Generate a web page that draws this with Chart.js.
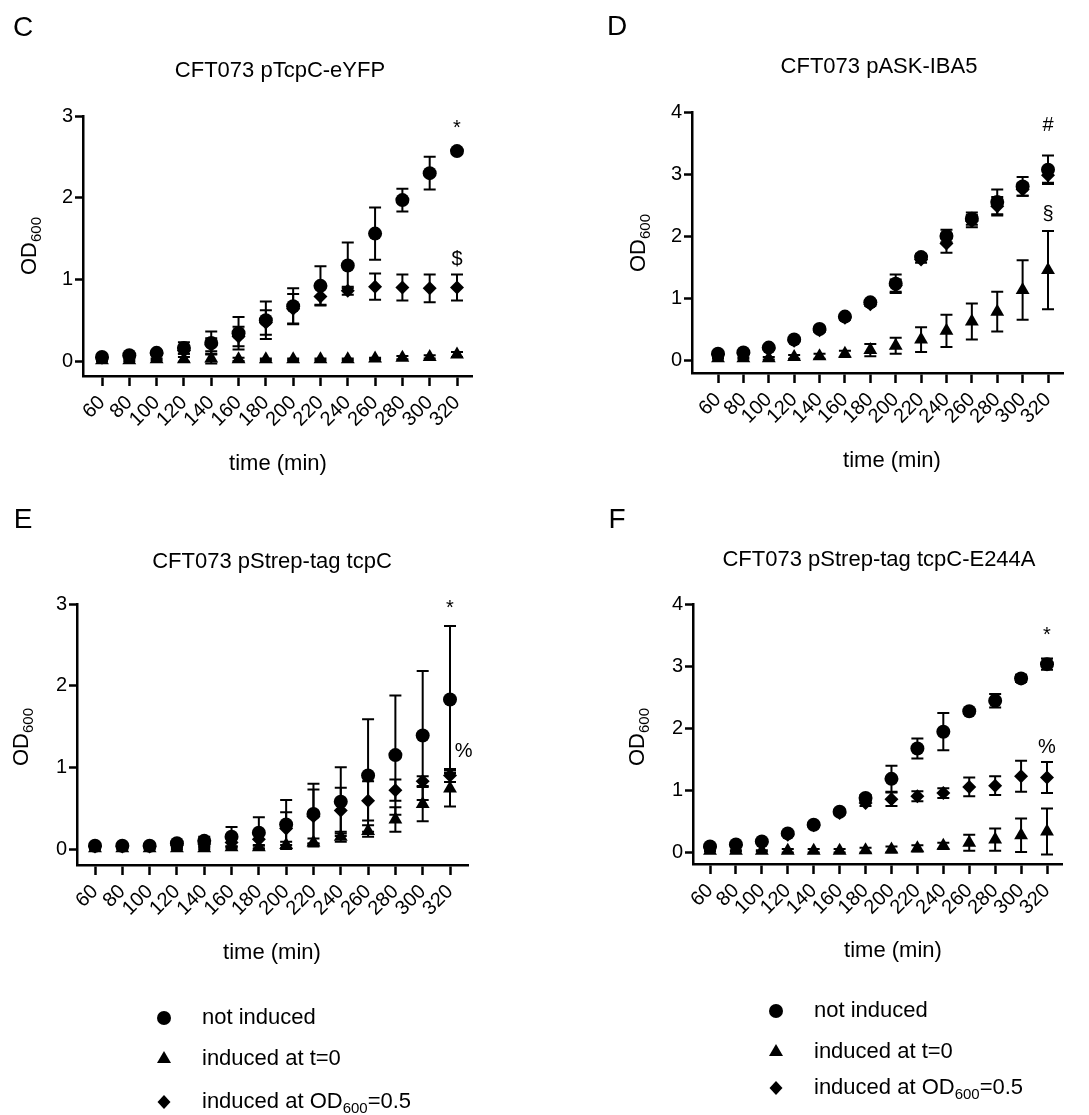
<!doctype html>
<html>
<head>
<title>OD600 growth curves</title>
<script src="https://cdn.jsdelivr.net/npm/chart.js@4.4.1/dist/chart.umd.min.js"></script>
<style>
  body { margin: 0; background: #fff; }
  canvas { position: absolute; }
</style>
</head>
<body>
<script>
// time points (min)
const times = [60, 80, 100, 120, 140, 160, 180, 200, 220, 240, 260, 280, 300, 320];
const seriesNames = ['not induced', 'induced at t=0', 'induced at OD600=0.5'];

// C: CFT073 pTcpC-eYFP
const cNotMean = [0.05, 0.07, 0.10, 0.16, 0.22, 0.34, 0.50, 0.67, 0.92, 1.17, 1.56, 1.97, 2.30, 2.57];
const cNotErr  = [0.01, 0.01, 0.02, 0.07, 0.14, 0.20, 0.23, 0.22, 0.24, 0.28, 0.32, 0.14, 0.20, 0.03];
const cT0Mean  = [0.01, 0.01, 0.02, 0.02, 0.03, 0.02, 0.02, 0.02, 0.02, 0.02, 0.03, 0.04, 0.05, 0.08];
const cT0Err   = [0.01, 0.01, 0.01, 0.03, 0.06, 0.02, 0.01, 0.01, 0.01, 0.01, 0.01, 0.02, 0.02, 0.03];
const cOdMean  = [0.04, 0.06, 0.09, 0.13, 0.20, 0.30, 0.47, 0.64, 0.79, 0.86, 0.91, 0.90, 0.89, 0.90];
const cOdErr   = [0.01, 0.01, 0.02, 0.04, 0.08, 0.12, 0.15, 0.18, 0.10, 0.05, 0.16, 0.16, 0.17, 0.16];

// D: CFT073 pASK-IBA5
const dNotMean = [0.10, 0.12, 0.20, 0.33, 0.50, 0.70, 0.93, 1.23, 1.66, 2.00, 2.28, 2.55, 2.80, 3.07];
const dNotErr  = [0.01, 0.01, 0.02, 0.02, 0.03, 0.03, 0.03, 0.15, 0.05, 0.10, 0.10, 0.20, 0.15, 0.23];
const dT0Mean  = [0.03, 0.03, 0.03, 0.05, 0.06, 0.10, 0.16, 0.23, 0.33, 0.47, 0.62, 0.78, 1.13, 1.45];
const dT0Err   = [0.01, 0.01, 0.02, 0.03, 0.04, 0.05, 0.10, 0.13, 0.20, 0.26, 0.29, 0.32, 0.48, 0.63];
const dOdMean  = [0.09, 0.11, 0.18, 0.31, 0.48, 0.68, 0.90, 1.20, 1.62, 1.88, 2.24, 2.48, 2.75, 2.98];
const dOdErr   = [0.01, 0.01, 0.02, 0.02, 0.03, 0.03, 0.03, 0.10, 0.05, 0.15, 0.10, 0.15, 0.10, 0.12];

// E: CFT073 pStrep-tag tcpC
const eNotMean = [0.04, 0.04, 0.04, 0.07, 0.10, 0.15, 0.20, 0.30, 0.43, 0.58, 0.90, 1.15, 1.39, 1.83];
const eNotErr  = [0.01, 0.01, 0.01, 0.02, 0.05, 0.12, 0.19, 0.30, 0.37, 0.42, 0.69, 0.73, 0.79, 0.90];
const eT0Mean  = [0.01, 0.01, 0.01, 0.01, 0.01, 0.02, 0.02, 0.05, 0.08, 0.15, 0.22, 0.36, 0.55, 0.74];
const eT0Err   = [0.01, 0.01, 0.01, 0.01, 0.01, 0.01, 0.02, 0.04, 0.05, 0.06, 0.07, 0.15, 0.21, 0.22];
const eOdMean  = [0.03, 0.03, 0.03, 0.05, 0.06, 0.08, 0.12, 0.25, 0.40, 0.47, 0.59, 0.72, 0.83, 0.90];
const eOdErr   = [0.01, 0.01, 0.01, 0.02, 0.03, 0.05, 0.07, 0.20, 0.33, 0.28, 0.24, 0.13, 0.06, 0.08];

// F: CFT073 pStrep-tag tcpC-E244A
const fNotMean = [0.09, 0.12, 0.17, 0.30, 0.44, 0.65, 0.87, 1.18, 1.67, 1.94, 2.27, 2.44, 2.80, 3.03];
const fNotErr  = [0.01, 0.01, 0.02, 0.02, 0.03, 0.03, 0.05, 0.21, 0.16, 0.30, 0.04, 0.11, 0.06, 0.09];
const fT0Mean  = [0.02, 0.02, 0.02, 0.02, 0.02, 0.02, 0.03, 0.04, 0.06, 0.10, 0.15, 0.20, 0.27, 0.33];
const fT0Err   = [0.01, 0.01, 0.01, 0.03, 0.03, 0.03, 0.04, 0.05, 0.05, 0.05, 0.13, 0.18, 0.27, 0.37];
const fOdMean  = [0.08, 0.11, 0.16, 0.28, 0.43, 0.63, 0.79, 0.85, 0.90, 0.95, 1.05, 1.07, 1.22, 1.20];
const fOdErr   = [0.01, 0.01, 0.02, 0.02, 0.03, 0.03, 0.05, 0.11, 0.08, 0.08, 0.15, 0.15, 0.25, 0.25];

// significance marks at the last time point
const cMarks = [['*', 320, 2.85], ['$', 320, 1.24]];
const dMarks = [['#', 320, 3.79], ['§', 320, 2.34]];
const eMarks = [['*', 320, 2.95], ['%', 330, 1.19]];
const fMarks = [['*', 320, 3.50], ['%', 320, 1.68]];

const FONT = '"Liberation Sans", Arial, Helvetica, sans-serif';

function marker(ctx, style, x, y) {
  ctx.beginPath();
  if (style === 'circle') {
    ctx.arc(x, y, 7, 0, Math.PI * 2);
  } else if (style === 'triangle') {
    ctx.moveTo(x, y - 8); ctx.lineTo(x + 7, y + 4); ctx.lineTo(x - 7, y + 4);
  } else {
    ctx.moveTo(x, y - 7); ctx.lineTo(x + 6.5, y); ctx.lineTo(x, y + 7); ctx.lineTo(x - 6.5, y);
  }
  ctx.closePath();
  ctx.fill();
}

// text with an optional subscript part: parts = [[text, isSub], ...]
function partsWidth(ctx, parts, size) {
  let w = 0;
  parts.forEach(p => {
    ctx.font = (p[1] ? Math.round(size * 0.68) : size) + 'px ' + FONT;
    w += ctx.measureText(p[0]).width;
  });
  return w;
}
function drawParts(ctx, parts, x, y, size, align) {
  let cx = align === 'center' ? x - partsWidth(ctx, parts, size) / 2 : x;
  ctx.textAlign = 'left';
  ctx.textBaseline = 'middle';
  parts.forEach(p => {
    ctx.font = (p[1] ? Math.round(size * 0.68) : size) + 'px ' + FONT;
    ctx.fillText(p[0], cx, p[1] ? y + size * 0.3 : y);
    cx += ctx.measureText(p[0]).width;
  });
}
const odParts = [['OD', false], ['600', true]];

const deco = {
  id: 'deco',
  beforeDatasetsDraw(chart) {
    const ctx = chart.ctx, ys = chart.scales.y;
    ctx.save();
    ctx.strokeStyle = '#000';
    ctx.lineWidth = 2;
    chart.data.datasets.forEach((ds, i) => {
      chart.getDatasetMeta(i).data.forEach((pt, j) => {
        const m = ds.data[j].y, e = ds.errs[j];
        const y1 = ys.getPixelForValue(m + e), y2 = ys.getPixelForValue(m - e);
        ctx.beginPath();
        ctx.moveTo(pt.x, y1); ctx.lineTo(pt.x, y2);
        ctx.moveTo(pt.x - 6, y1); ctx.lineTo(pt.x + 6, y1);
        ctx.moveTo(pt.x - 6, y2); ctx.lineTo(pt.x + 6, y2);
        ctx.stroke();
      });
    });
    ctx.restore();
  },
  afterDraw(chart, args, o) {
    const ctx = chart.ctx, xs = chart.scales.x, ys = chart.scales.y;
    const bx = o.box.x, by = o.box.y;
    ctx.save();
    ctx.fillStyle = '#000';
    // panel letter
    ctx.font = '28px ' + FONT;
    ctx.textAlign = 'center';
    ctx.textBaseline = 'middle';
    ctx.fillText(o.letter, o.letterAt[0] - bx, o.letterAt[1] - by);
    // title
    ctx.font = '22px ' + FONT;
    ctx.fillText(o.title, o.titleAt[0] - bx, o.titleAt[1] - by);
    // x title
    ctx.fillText('time (min)', o.xTitleAt[0] - bx, o.xTitleAt[1] - by);
    // y title
    ctx.save();
    ctx.translate(o.yTitleAt[0] - bx, o.yTitleAt[1] - by);
    ctx.rotate(-Math.PI / 2);
    drawParts(ctx, odParts, 0, 0, 22, 'center');
    ctx.restore();
    // significance marks
    ctx.font = '20px ' + FONT;
    ctx.textAlign = 'center';
    ctx.textBaseline = 'middle';
    o.marks.forEach(m => ctx.fillText(m[0], xs.getPixelForValue(m[1]), ys.getPixelForValue(m[2])));
    // legend
    if (o.legend) {
      const L = o.legend;
      const styles = ['circle', 'triangle', 'rectRot'];
      seriesNames.forEach((name, i) => {
        const y = L.rows[i] - by;
        marker(ctx, styles[i], L.mx - bx, y);
        const parts = name.indexOf('OD600') >= 0
          ? [['induced at OD', false], ['600', true], ['=0.5', false]]
          : [[name, false]];
        drawParts(ctx, parts, L.tx - bx, y, 22, 'left');
      });
    }
    ctx.restore();
  }
};

function series(label, style, mean, err, r) {
  return {
    label: label,
    data: times.map((t, i) => ({ x: t, y: mean[i] })),
    errs: err,
    showLine: false,
    pointStyle: style,
    pointRadius: r,
    pointHoverRadius: r,
    backgroundColor: '#000',
    borderColor: '#000',
    borderWidth: 0
  };
}

function makePanel(p) {
  const cv = document.createElement('canvas');
  cv.width = p.box.w; cv.height = p.box.h;
  cv.style.left = p.box.x + 'px'; cv.style.top = p.box.y + 'px';
  document.body.appendChild(cv);

  const YW = 40, XH = 60;
  const a = p.area;
  const ppm = (p.firstLast[1] - p.firstLast[0]) / (times[times.length - 1] - times[0]);
  const xMin = times[0] - (p.firstLast[0] - a.l) / ppm;
  const xMax = times[times.length - 1] + (a.r - p.firstLast[1]) / ppm;
  const yMax = p.yTicks[p.yTicks.length - 1];
  const ppu = (p.zero - a.t) / yMax;
  const yMin = -(a.b - p.zero) / ppu;

  const tickFont = { family: FONT, size: 20 };
  new Chart(cv, {
    type: 'scatter',
    data: {
      datasets: [
        series(seriesNames[0], 'circle', p.sets[0], p.sets[1], 7),
        series(seriesNames[1], 'triangle', p.sets[2], p.sets[3], 8),
        series(seriesNames[2], 'rectRot', p.sets[4], p.sets[5], 7)
      ]
    },
    options: {
      responsive: false,
      animation: false,
      devicePixelRatio: 1,
      layout: {
        padding: {
          left: a.l - p.box.x - YW,
          top: a.t - p.box.y,
          right: p.box.x + p.box.w - a.r,
          bottom: p.box.y + p.box.h - a.b - XH
        }
      },
      plugins: {
        legend: { display: false },
        tooltip: { enabled: false },
        deco: {
          box: p.box, letter: p.letter, letterAt: p.letterAt, title: p.title, titleAt: p.titleAt,
          xTitleAt: p.xTitleAt, yTitleAt: p.yTitleAt, marks: p.marks, legend: p.legend
        }
      },
      scales: {
        x: {
          type: 'linear', min: xMin, max: xMax,
          afterBuildTicks: s => { s.ticks = times.map(v => ({ value: v })); },
          afterFit: s => { s.height = XH; },
          grid: { drawOnChartArea: false, drawTicks: true, tickLength: 10, tickWidth: 2.5, color: '#000' },
          border: { display: true, color: '#000', width: 2.5 },
          ticks: { autoSkip: false, minRotation: 45, maxRotation: 45, color: '#000', font: tickFont, padding: 5 }
        },
        y: {
          min: yMin, max: yMax,
          afterBuildTicks: s => { s.ticks = p.yTicks.map(v => ({ value: v })); },
          afterFit: s => { s.width = YW; },
          grid: { drawOnChartArea: false, drawTicks: true, tickLength: 8, tickWidth: 2.5, color: '#000' },
          border: { display: true, color: '#000', width: 2.5 },
          ticks: { color: '#000', font: tickFont, padding: 2 }
        }
      }
    },
    plugins: [deco]
  });
}

makePanel({
  box: { x: 0, y: 0, w: 540, h: 490 },
  area: { l: 83, t: 116, r: 472, b: 376 }, zero: 361, firstLast: [102, 457],
  yTicks: [0, 1, 2, 3],
  sets: [cNotMean, cNotErr, cT0Mean, cT0Err, cOdMean, cOdErr],
  letter: 'C', letterAt: [23, 28], title: 'CFT073 pTcpC-eYFP', titleAt: [280, 71],
  xTitleAt: [278, 464], yTitleAt: [30, 246], marks: cMarks
});
makePanel({
  box: { x: 540, y: 0, w: 549, h: 490 },
  area: { l: 692, t: 112, r: 1063, b: 373 }, zero: 360, firstLast: [718, 1048],
  yTicks: [0, 1, 2, 3, 4],
  sets: [dNotMean, dNotErr, dT0Mean, dT0Err, dOdMean, dOdErr],
  letter: 'D', letterAt: [617, 27], title: 'CFT073 pASK-IBA5', titleAt: [879, 67],
  xTitleAt: [892, 461], yTitleAt: [639, 243], marks: dMarks
});
makePanel({
  box: { x: 0, y: 490, w: 540, h: 625 },
  area: { l: 77, t: 604, r: 468, b: 865 }, zero: 849, firstLast: [95, 450],
  yTicks: [0, 1, 2, 3],
  sets: [eNotMean, eNotErr, eT0Mean, eT0Err, eOdMean, eOdErr],
  letter: 'E', letterAt: [23, 520], title: 'CFT073 pStrep-tag tcpC', titleAt: [272, 562],
  xTitleAt: [272, 953], yTitleAt: [22, 737], marks: eMarks,
  legend: { mx: 164, tx: 202, rows: [1018, 1059, 1102] }
});
makePanel({
  box: { x: 540, y: 490, w: 549, h: 625 },
  area: { l: 693, t: 604, r: 1062, b: 864 }, zero: 852, firstLast: [710, 1047],
  yTicks: [0, 1, 2, 3, 4],
  sets: [fNotMean, fNotErr, fT0Mean, fT0Err, fOdMean, fOdErr],
  letter: 'F', letterAt: [617, 520], title: 'CFT073 pStrep-tag tcpC-E244A', titleAt: [879, 560],
  xTitleAt: [893, 951], yTitleAt: [638, 737], marks: fMarks,
  legend: { mx: 776, tx: 814, rows: [1011, 1052, 1088] }
});
</script>
</body>
</html>
